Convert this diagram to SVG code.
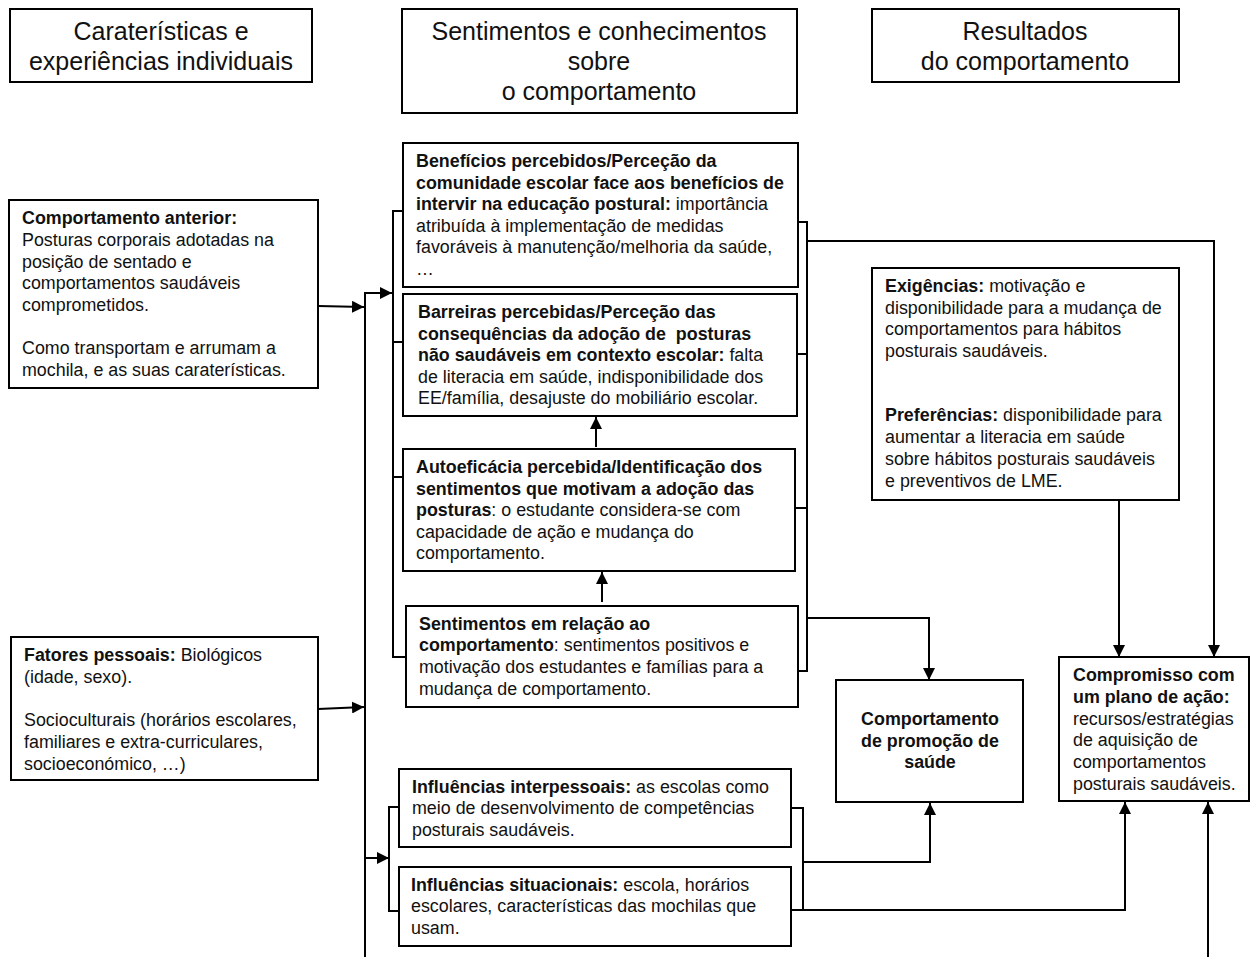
<svg xmlns="http://www.w3.org/2000/svg" width="1256" height="957" viewBox="0 0 1256 957">
<style>
.box{fill:#fff;stroke:#000;stroke-width:2}
.t{font-family:"Liberation Sans",Arial,sans-serif;font-size:17.85px;fill:#111;white-space:pre}
.h{font-family:"Liberation Sans",Arial,sans-serif;font-size:25px;fill:#111;text-anchor:middle}
.b{font-weight:bold}
.c{text-anchor:middle}
.ln{fill:none;stroke:#000;stroke-width:2}
.ar{fill:none;stroke:#000;stroke-width:2;marker-end:url(#ah)}
</style>
<defs>
<marker id="ah" markerUnits="userSpaceOnUse" markerWidth="12" markerHeight="12" refX="12" refY="6" orient="auto">
<path d="M0,0 L12,6 L0,12 z" fill="#000"/>
</marker>
</defs>
<rect width="1256" height="957" fill="#fff"/>

<g id="connectors">
<path class="ar" d="M318,306 L364,307"/>
<path class="ar" d="M318,709 L364,707"/>
<path class="ar" d="M365,957 V293 H392"/>
<path class="ln" d="M403,211 H393 V657 H406 M393,342 H403 M393,477 H403"/>
<path class="ar" d="M365,858 H389"/>
<path class="ln" d="M399,807 H389 V911 H399"/>
<path class="ar" d="M596,447 V417"/>
<path class="ar" d="M602,602 V572"/>
<path class="ln" d="M798,222 H807 V671 H798 M797,354 H807 M795,508 H807"/>
<path class="ar" d="M807,241 H1214 V657"/>
<path class="ar" d="M807,618 H929 V680"/>
<path class="ar" d="M1119,500 V657"/>
<path class="ln" d="M791,808 H803 V910"/>
<path class="ar" d="M791,910 H1125 V802"/>
<path class="ar" d="M803,862 H930 V803"/>
<path class="ar" d="M1208,957 V802"/>
</g>

<g id="header1">
<rect class="box" x="10" y="9" width="302" height="73"/>
<text class="h" x="161" y="40">Caraterísticas e</text>
<text class="h" x="161" y="70">experiências individuais</text>
</g>
<g id="header2">
<rect class="box" x="402" y="9" width="395" height="104"/>
<text class="h" x="599" y="40">Sentimentos e conhecimentos</text>
<text class="h" x="599" y="70">sobre</text>
<text class="h" x="599" y="100">o comportamento</text>
</g>
<g id="header3">
<rect class="box" x="872" y="9" width="307" height="73"/>
<text class="h" x="1025" y="40">Resultados</text>
<text class="h" x="1025" y="70">do comportamento</text>
</g>

<g id="comportamento-anterior">
<rect class="box" x="9" y="200" width="309" height="188"/>
<text class="t" x="22" y="224"><tspan class="b">Comportamento anterior:</tspan></text>
<text class="t" x="22" y="246">Posturas corporais adotadas na</text>
<text class="t" x="22" y="268">posição de sentado e</text>
<text class="t" x="22" y="289">comportamentos saudáveis</text>
<text class="t" x="22" y="311">comprometidos.</text>
<text class="t" x="22" y="354">Como transportam e arrumam a</text>
<text class="t" x="22" y="376">mochila, e as suas caraterísticas.</text>
</g>

<g id="fatores-pessoais">
<rect class="box" x="11" y="637" width="307" height="143"/>
<text class="t" x="24" y="661"><tspan class="b">Fatores pessoais:</tspan> Biológicos</text>
<text class="t" x="24" y="683">(idade, sexo).</text>
<text class="t" x="24" y="726">Socioculturais (horários escolares,</text>
<text class="t" x="24" y="748">familiares e extra-curriculares,</text>
<text class="t" x="24" y="770">socioeconómico, …)</text>
</g>

<g id="beneficios">
<rect class="box" x="403" y="143" width="395" height="144"/>
<text class="t" x="416" y="167"><tspan class="b">Benefícios percebidos/Perceção da</tspan></text>
<text class="t" x="416" y="189"><tspan class="b">comunidade escolar face aos benefícios de</tspan></text>
<text class="t" x="416" y="210"><tspan class="b">intervir na educação postural:</tspan> importância</text>
<text class="t" x="416" y="232">atribuída à implementação de medidas</text>
<text class="t" x="416" y="253">favoráveis à manutenção/melhoria da saúde,</text>
<text class="t" x="416" y="275">…</text>
</g>

<g id="barreiras">
<rect class="box" x="403" y="294" width="394" height="122"/>
<text class="t" x="418" y="318"><tspan class="b">Barreiras percebidas/Perceção das</tspan></text>
<text class="t" x="418" y="340"><tspan class="b">consequências da adoção de  posturas</tspan></text>
<text class="t" x="418" y="361"><tspan class="b">não saudáveis em contexto escolar:</tspan> falta</text>
<text class="t" x="418" y="383">de literacia em saúde, indisponibilidade dos</text>
<text class="t" x="418" y="404">EE/família, desajuste do mobiliário escolar.</text>
</g>

<g id="autoeficacia">
<rect class="box" x="403" y="449" width="392" height="122"/>
<text class="t" x="416" y="473"><tspan class="b">Autoeficácia percebida/Identificação dos</tspan></text>
<text class="t" x="416" y="495"><tspan class="b">sentimentos que motivam a adoção das</tspan></text>
<text class="t" x="416" y="516"><tspan class="b">posturas</tspan>: o estudante considera-se com</text>
<text class="t" x="416" y="538">capacidade de ação e mudança do</text>
<text class="t" x="416" y="559">comportamento.</text>
</g>

<g id="sentimentos">
<rect class="box" x="406" y="606" width="392" height="101"/>
<text class="t" x="419" y="630"><tspan class="b">Sentimentos em relação ao</tspan></text>
<text class="t" x="419" y="651"><tspan class="b">comportamento</tspan>: sentimentos positivos e</text>
<text class="t" x="419" y="673">motivação dos estudantes e famílias para a</text>
<text class="t" x="419" y="695">mudança de comportamento.</text>
</g>

<g id="influencias-interpessoais">
<rect class="box" x="399" y="769" width="392" height="78"/>
<text class="t" x="412" y="793"><tspan class="b">Influências interpessoais:</tspan> as escolas como</text>
<text class="t" x="412" y="814">meio de desenvolvimento de competências</text>
<text class="t" x="412" y="836">posturais saudáveis.</text>
</g>

<g id="influencias-situacionais">
<rect class="box" x="399" y="867" width="392" height="79"/>
<text class="t" x="411" y="891"><tspan class="b">Influências situacionais:</tspan> escola, horários</text>
<text class="t" x="411" y="912">escolares, características das mochilas que</text>
<text class="t" x="411" y="934">usam.</text>
</g>

<g id="exigencias">
<rect class="box" x="872" y="268" width="307" height="232"/>
<text class="t" x="885" y="292"><tspan class="b">Exigências:</tspan> motivação e</text>
<text class="t" x="885" y="314">disponibilidade para a mudança de</text>
<text class="t" x="885" y="335">comportamentos para hábitos</text>
<text class="t" x="885" y="357">posturais saudáveis.</text>
<text class="t" x="885" y="421"><tspan class="b">Preferências:</tspan> disponibilidade para</text>
<text class="t" x="885" y="443">aumentar a literacia em saúde</text>
<text class="t" x="885" y="465">sobre hábitos posturais saudáveis</text>
<text class="t" x="885" y="487">e preventivos de LME.</text>
</g>

<g id="comportamento-promocao">
<rect class="box" x="836" y="680" width="187" height="122"/>
<text class="t b c" x="930" y="725">Comportamento</text>
<text class="t b c" x="930" y="747">de promoção de</text>
<text class="t b c" x="930" y="768">saúde</text>
</g>

<g id="compromisso">
<rect class="box" x="1059" y="657" width="190" height="144"/>
<text class="t b" x="1073" y="681">Compromisso com</text>
<text class="t b" x="1073" y="703">um plano de ação:</text>
<text class="t" x="1073" y="725">recursos/estratégias</text>
<text class="t" x="1073" y="746">de aquisição de</text>
<text class="t" x="1073" y="768">comportamentos</text>
<text class="t" x="1073" y="790">posturais saudáveis.</text>
</g>
</svg>
